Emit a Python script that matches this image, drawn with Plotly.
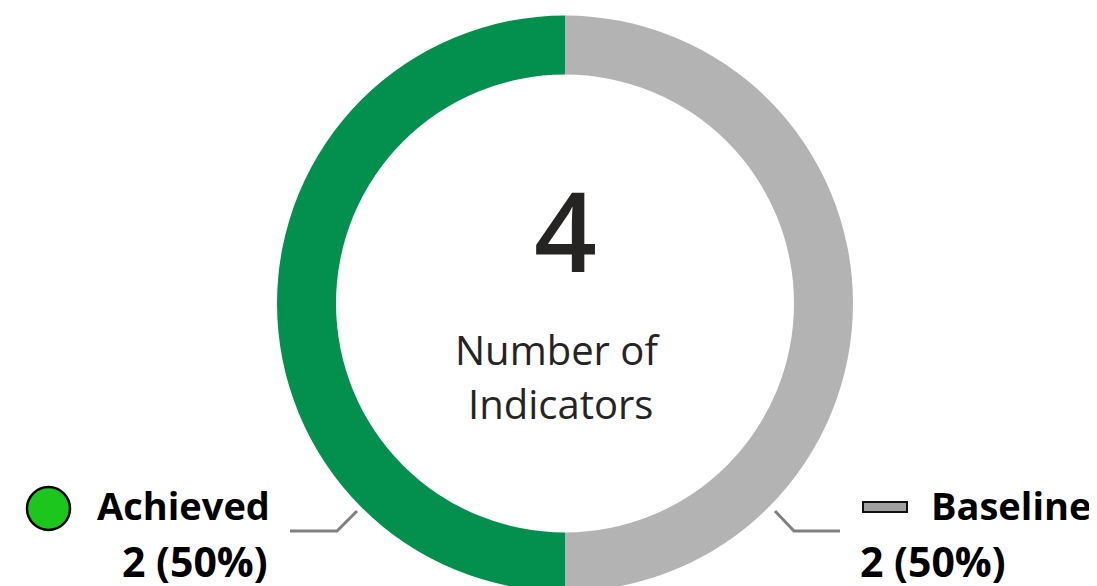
import plotly.graph_objects as go

# ---- data ----
categories = ["Achieved", "Baseline"]
values = [2, 2]
slice_colors = ["#038F4D", "#B3B3B3"]
center_caption = ["Number of", "Indicators"]

W, H = 1097, 607
OFF = 8  # page body margin
total = sum(values)


def px(x):
    return (x - OFF) / W


def py(y):
    return 1 - (y - OFF) / H


# donut geometry (window pixels)
cx, cy, r_out, r_in = 565, 303.5, 288, 229

fig = go.Figure()
fig.add_trace(go.Pie(
    labels=categories,
    values=values,
    hole=r_in / r_out,
    sort=False,
    direction="clockwise",
    rotation=180,
    marker=dict(colors=slice_colors, line=dict(width=0)),
    textinfo="none",
    hoverinfo="label+value+percent",
    showlegend=False,
    domain=dict(x=[px(cx - 330), px(cx + 330)], y=[py(cy + r_out), py(cy - r_out)]),
))

font_family = "Open Sans, Noto Sans, sans-serif"

# centre total
fig.add_annotation(x=px(cx), y=py(229), xref="paper", yref="paper", text=str(total),
                   showarrow=False, xanchor="center", yanchor="middle",
                   font=dict(family=font_family, size=110, color="#252423", weight=600))
fig.add_annotation(x=px(557), y=py(349), xref="paper", yref="paper", text=center_caption[0],
                   showarrow=False, xanchor="center", yanchor="middle",
                   font=dict(family=font_family, size=40, color="#252423"))
fig.add_annotation(x=px(560), y=py(404), xref="paper", yref="paper", text=center_caption[1],
                   showarrow=False, xanchor="center", yanchor="middle",
                   font=dict(family=font_family, size=40, color="#252423"))

# outside labels
for i, cat in enumerate(categories):
    v = values[i]
    name_x = 272 if i == 0 else 929
    val_x = 270 if i == 0 else 858
    anchor = "right" if i == 0 else "left"
    fig.add_annotation(x=px(name_x), y=py(505), xref="paper", yref="paper",
                       text=f"<b>{cat}</b>", showarrow=False, xanchor=anchor, yanchor="middle",
                       font=dict(family=font_family, size=38, color="#000000"))
    fig.add_annotation(x=px(val_x), y=py(561), xref="paper", yref="paper",
                       text=f"<b>{v} ({v / total:.0%})</b>", showarrow=False,
                       xanchor=anchor, yanchor="middle",
                       font=dict(family=font_family, size=41, color="#000000"))

# legend-like markers
fig.add_shape(type="circle", xref="paper", yref="paper",
              x0=px(27), x1=px(70), y0=py(530), y1=py(487),
              fillcolor="#1CC61C", line=dict(color="#000000", width=2.5))
fig.add_shape(type="rect", xref="paper", yref="paper",
              x0=px(863), x1=px(907), y0=py(512), y1=py(502),
              fillcolor="#A0A0A0", line=dict(color="#111111", width=2))


# leader lines
def path(points):
    return "M " + " L ".join(f"{px(x)},{py(y)}" for x, y in points)


fig.add_shape(type="path", xref="paper", yref="paper",
              path=path([(290, 531), (337, 531), (357, 511)]),
              line=dict(color="#808080", width=3))
fig.add_shape(type="path", xref="paper", yref="paper",
              path=path([(775, 511), (794, 531), (840, 531)]),
              line=dict(color="#808080", width=3))

fig.update_layout(
    width=W, height=H,
    margin=dict(l=0, r=0, t=0, b=0),
    paper_bgcolor="white", plot_bgcolor="white",
    showlegend=False,
)

fig.write_html("out.html")
